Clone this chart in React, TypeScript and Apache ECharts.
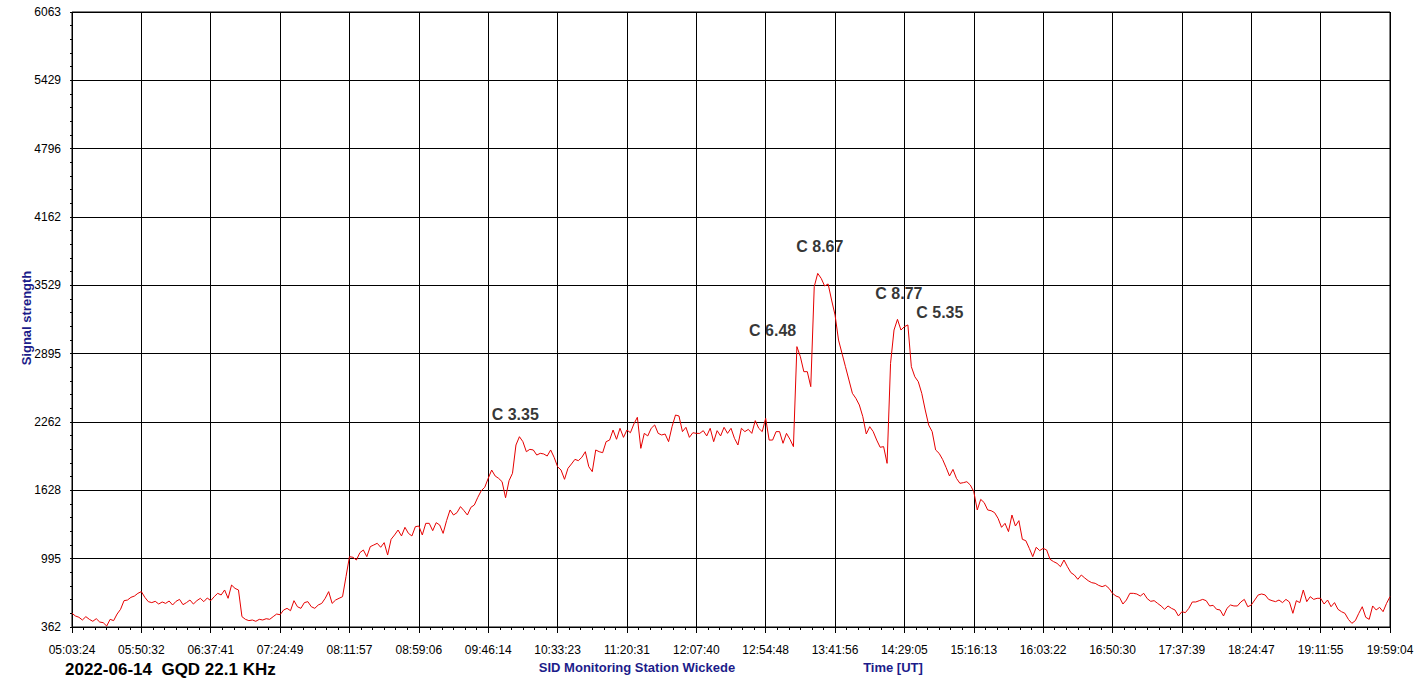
import React, { useEffect, useRef } from "react";
import * as echarts from "echarts";

const xTickLabels = [
  "05:03:24", "05:50:32", "06:37:41", "07:24:49", "08:11:57", "08:59:06", "09:46:14",
  "10:33:23", "11:20:31", "12:07:40", "12:54:48", "13:41:56", "14:29:05", "15:16:13",
  "16:03:22", "16:50:30", "17:37:39", "18:24:47", "19:11:55", "19:59:04",
];

const yTickLabels = ["362", "995", "1628", "2262", "2895", "3529", "4162", "4796", "5429", "6063"];

const yMin = 362;
const yMax = 6063;

// samples read every 1/20 of a time gridline interval
const samplesPerDivision = 20;

const signal = [
  // 05:03 - 05:50
  489, 464, 452, 427, 458, 433, 415, 439, 408, 402, 371, 433, 421, 482, 526, 606, 612, 637, 649, 674,
  // 05:50 - 06:37
  690, 637, 597, 588, 600, 575, 594, 581, 603, 566, 600, 618, 569, 588, 612, 575, 606, 628, 597, 631,
  // 06:37 - 07:24
  606, 643, 674, 659, 705, 628, 751, 720, 705, 458, 433, 421, 427, 415, 433, 427, 439, 433, 458, 482,
  // 07:24 - 08:11
  476, 519, 535, 513, 606, 550, 535, 588, 597, 550, 535, 566, 581, 628, 690, 581, 612, 628, 643, 829,
  // 08:11 - 08:59
  1014, 1008, 983, 1051, 1076, 1014, 1107, 1122, 1138, 1101, 1144, 1029, 1175, 1215, 1261, 1206, 1286, 1230, 1206, 1292,
  // 08:59 - 09:46
  1298, 1215, 1323, 1323, 1255, 1329, 1308, 1230, 1348, 1447, 1400, 1422, 1478, 1441, 1400, 1471, 1493, 1564, 1626, 1657,
  // 09:46 - 10:33
  1740, 1817, 1762, 1740, 1709, 1560, 1718, 1787, 2049, 2126, 2080, 1987, 2009, 2003, 1956, 1972, 1966, 1947, 2003, 1935,
  // 10:33 - 11:20
  1848, 1817, 1731, 1833, 1873, 1916, 1904, 1935, 1987, 1848, 1802, 2003, 1987, 1978, 2080, 2095, 2188, 2102, 2204, 2120,
  // 11:20 - 12:07
  2188, 2163, 2244, 2306, 2018, 2157, 2133, 2204, 2235, 2157, 2142, 2151, 2080, 2219, 2327, 2318, 2173, 2213, 2120, 2163,
  // 12:07 - 12:54
  2157, 2157, 2182, 2133, 2204, 2080, 2182, 2133, 2213, 2157, 2204, 2111, 2049, 2204, 2173, 2194, 2157, 2275, 2204, 2173,
  // 12:54 - 13:41
  2296, 2095, 2095, 2173, 2173, 2065, 2157, 2102, 2034, 2961, 2868, 2729, 2729, 2590, 3517, 3640, 3594, 3523, 3542, 3393,
  // 13:41 - 14:29
  3254, 3022, 2899, 2775, 2652, 2528, 2482, 2420, 2312, 2151, 2219, 2173, 2095, 2028, 2034, 1879, 2806, 3115, 3214, 3115,
  // 14:29 - 15:16
  3146, 3162, 2775, 2682, 2636, 2528, 2374, 2234, 2173, 2003, 1972, 1916, 1842, 1762, 1823, 1740, 1694, 1700, 1709, 1678,
  // 15:16 - 16:03
  1617, 1447, 1545, 1515, 1447, 1440, 1422, 1369, 1286, 1323, 1246, 1400, 1298, 1348, 1175, 1162, 1091, 1014, 1101, 1070,
  // 16:03 - 16:50
  1091, 1076, 989, 968, 952, 921, 983, 921, 866, 844, 804, 844, 816, 791, 773, 767, 748, 736, 748, 720,
  // 16:50 - 17:37
  674, 649, 637, 575, 612, 674, 674, 668, 649, 674, 625, 600, 606, 581, 557, 526, 557, 535, 520, 464,
  // 17:37 - 18:24
  504, 495, 535, 594, 594, 606, 618, 606, 557, 563, 526, 520, 464, 535, 566, 557, 557, 594, 618, 550,
  // 18:24 - 19:11
  566, 612, 659, 668, 659, 618, 606, 597, 612, 588, 618, 594, 489, 606, 588, 705, 597, 643, 618, 628,
  // 19:11 - 19:59
  628, 575, 612, 550, 588, 526, 504, 489, 433, 396, 421, 489, 550, 452, 433, 557, 520, 544, 504, 581,
  643,
];

// flare annotations: [label, position in gridline units, signal value]
const flareLabels: [string, number, number][] = [
  ["C 3.35", 6.39, 2336],
  ["C 6.48", 10.1, 3106],
  ["C 8.67", 10.78, 3885],
  ["C 8.77", 11.92, 3458],
  ["C 5.35", 12.51, 3273],
];

const FONT = "'Liberation Sans', Arial, Helvetica, sans-serif";
const NAVY = "#1c1c8a";

export default function App() {
  const ref = useRef<HTMLDivElement>(null);

  useEffect(() => {
    document.body.style.margin = "0";
    const chart = echarts.init(ref.current!, null, { renderer: "svg" });
    const lineData = signal.map((v, i) => [i / samplesPerDivision, v]);
    chart.setOption({
      animation: false,
      backgroundColor: "#ffffff",
      textStyle: { fontFamily: FONT },
      grid: {
        left: 72,
        right: 28,
        top: 12,
        bottom: 55,
        show: true,
        borderColor: "#000",
        borderWidth: 1,
        backgroundColor: "transparent",
      },
      xAxis: [
        {
          type: "value",
          min: 0,
          max: xTickLabels.length - 1,
          interval: 1,
          position: "bottom",
          offset: 3,
          axisLine: { show: false },
          axisTick: { show: true, length: 6, lineStyle: { color: "#000", width: 1 } },
          minorTick: { show: true, splitNumber: 6, length: 3, lineStyle: { color: "#000", width: 1 } },
          axisLabel: {
            margin: 14,
            color: "#000",
            fontSize: 12,
            fontFamily: FONT,
            formatter: (v: number) => xTickLabels[Math.round(v)] ?? "",
          },
          splitLine: { show: true, lineStyle: { color: "#000", width: 1 } },
          minorSplitLine: { show: false },
        },
      ],
      yAxis: [
        {
          type: "value",
          min: 0,
          max: yTickLabels.length - 1,
          interval: 1,
          position: "left",
          offset: 4,
          axisLine: { show: false },
          axisTick: { show: true, length: 2, lineStyle: { color: "#000", width: 1 } },
          minorTick: { show: true, splitNumber: 5, length: 2, lineStyle: { color: "#000", width: 1 } },
          axisLabel: {
            margin: 7,
            color: "#000",
            fontSize: 12,
            fontFamily: FONT,
            formatter: (v: number) => yTickLabels[Math.round(v)] ?? "",
          },
          splitLine: { show: true, lineStyle: { color: "#000", width: 1 } },
          minorSplitLine: { show: false },
        },
        {
          type: "value",
          min: yMin,
          max: yMax,
          show: false,
          splitLine: { show: false },
        },
      ],
      series: [
        {
          type: "line",
          xAxisIndex: 0,
          yAxisIndex: 1,
          data: lineData,
          showSymbol: false,
          symbol: "none",
          lineStyle: { color: "#e60000", width: 1 },
          silent: true,
          z: 5,
        },
        {
          type: "scatter",
          xAxisIndex: 0,
          yAxisIndex: 1,
          symbolSize: 0,
          data: flareLabels.map(([name, x, y]) => ({ name, value: [x, y] })),
          label: {
            show: true,
            position: "inside",
            formatter: (p: any) => p.name,
            color: "#000",
            fontWeight: "bold",
            fontSize: 16,
            fontFamily: FONT,
          },
          silent: true,
          z: 6,
        },
      ],
      graphic: [
        {
          type: "text",
          x: 26,
          y: 318,
          rotation: Math.PI / 2,
          style: {
            text: "Signal strength",
            font: `bold 13px ${FONT}`,
            fill: NAVY,
            align: "center",
            verticalAlign: "middle",
          },
        },
        {
          type: "text",
          x: 65,
          y: 669,
          style: {
            text: "2022-06-14  GQD 22.1 KHz",
            font: `bold 17px ${FONT}`,
            fill: "#000",
            align: "left",
            verticalAlign: "middle",
          },
        },
        {
          type: "text",
          x: 637,
          y: 667,
          style: {
            text: "SID Monitoring Station Wickede",
            font: `bold 13px ${FONT}`,
            fill: NAVY,
            align: "center",
            verticalAlign: "middle",
          },
        },
        {
          type: "text",
          x: 893,
          y: 667,
          style: {
            text: "Time [UT]",
            font: `bold 13px ${FONT}`,
            fill: NAVY,
            align: "center",
            verticalAlign: "middle",
          },
        },
      ],
    });
    return () => chart.dispose();
  }, []);

  return <div ref={ref} style={{ width: 1418, height: 682 }} />;
}
